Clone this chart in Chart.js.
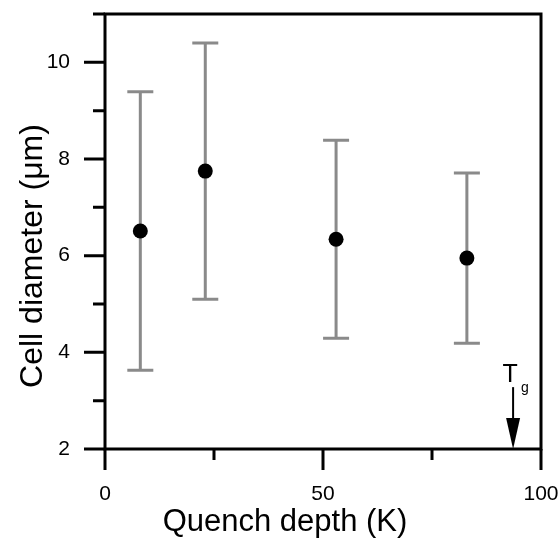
<!DOCTYPE html>
<html>
<head>
<meta charset="utf-8">
<script src="https://cdn.jsdelivr.net/npm/chart.js@4.4.1/dist/chart.umd.min.js"></script>
<style>
  html, body { margin: 0; padding: 0; background: #fff; }
  #wrap { width: 559px; height: 539px; }
</style>
</head>
<body>
<div id="wrap"><canvas id="c" width="559" height="539"></canvas></div>
<script>
// Mean cell diameter against quench depth, with symmetric error bars
const quenchDepth   = [8.1, 23.0, 53.0, 83.0];     // K
const cellDiameter  = [6.51, 7.75, 6.34, 5.95];    // µm
const diameterError = [2.88, 2.65, 2.05, 1.76];    // µm, ±

const xTickLabels = ['0', '50', '100'];
const yTickLabels = ['2', '4', '6', '8', '10'];

const xTitle = 'Quench depth (K)';
const yTitle = 'Cell diameter (\u03BCm)';

// Glass transition marker: arrow down to the axis at Tg
const tgDepth = 93.6;
const tgArrowTop = 3.28;
const tgArrowTip = 2;

const FONT = '"Liberation Sans", Arial, Helvetica, sans-serif';
const AXIS_W = 3;

const errorBars = {
  id: 'errorBars',
  beforeDatasetsDraw(chart) {
    const { ctx, scales: { x, y } } = chart;
    ctx.save();
    ctx.strokeStyle = '#8a8a8a';
    ctx.lineWidth = 3;
    quenchDepth.forEach((d, i) => {
      const px = x.getPixelForValue(d);
      const top = y.getPixelForValue(cellDiameter[i] + diameterError[i]);
      const bot = y.getPixelForValue(cellDiameter[i] - diameterError[i]);
      ctx.beginPath();
      ctx.moveTo(px, top); ctx.lineTo(px, bot);
      ctx.moveTo(px - 13, top); ctx.lineTo(px + 13, top);
      ctx.moveTo(px - 13, bot); ctx.lineTo(px + 13, bot);
      ctx.stroke();
    });
    ctx.restore();
  }
};

const frameAndTicks = {
  id: 'frameAndTicks',
  afterDraw(chart) {
    const { ctx, chartArea: a, scales: { x, y } } = chart;
    ctx.save();
    ctx.strokeStyle = '#000';
    ctx.lineWidth = AXIS_W;
    ctx.lineCap = 'square';
    ctx.beginPath();
    ctx.moveTo(a.left, a.top); ctx.lineTo(a.right, a.top);
    ctx.lineTo(a.right, a.bottom); ctx.lineTo(a.left, a.bottom);
    ctx.closePath();
    ctx.stroke();
    ctx.lineCap = 'butt';
    ctx.beginPath();
    x.ticks.forEach(t => {
      const px = x.getPixelForValue(t.value);
      const len = xTickLabels.includes(String(t.value)) ? 21 : 11;
      ctx.moveTo(px, a.bottom); ctx.lineTo(px, a.bottom + len);
    });
    y.ticks.forEach(t => {
      const py = y.getPixelForValue(t.value);
      const len = yTickLabels.includes(String(t.value)) ? 21 : 12;
      ctx.moveTo(a.left, py); ctx.lineTo(a.left - len, py);
    });
    ctx.stroke();
    ctx.restore();
  }
};

const tgMarker = {
  id: 'tgMarker',
  afterDraw(chart) {
    const { ctx, scales: { x, y } } = chart;
    const px = x.getPixelForValue(tgDepth);
    const yTop = y.getPixelForValue(tgArrowTop);
    const yTip = y.getPixelForValue(tgArrowTip);
    const headLen = 31;
    ctx.save();
    ctx.strokeStyle = '#000';
    ctx.fillStyle = '#000';
    ctx.lineWidth = 2;
    ctx.beginPath();
    ctx.moveTo(px, yTop); ctx.lineTo(px, yTip - headLen + 2);
    ctx.stroke();
    ctx.beginPath();
    ctx.moveTo(px - 7, yTip - headLen);
    ctx.lineTo(px + 7, yTip - headLen);
    ctx.lineTo(px, yTip);
    ctx.closePath();
    ctx.fill();
    ctx.textBaseline = 'alphabetic';
    ctx.textAlign = 'center';
    ctx.font = '25px ' + FONT;
    ctx.fillText('T', px - 3, yTop - 5);
    ctx.font = '14px ' + FONT;
    ctx.textAlign = 'left';
    ctx.fillText('g', px + 8, yTop + 5);
    ctx.restore();
  }
};

const axisTitles = {
  id: 'axisTitles',
  afterDraw(chart) {
    const { ctx } = chart;
    ctx.save();
    ctx.fillStyle = '#000';
    ctx.font = '31px ' + FONT;
    ctx.textAlign = 'center';
    ctx.textBaseline = 'alphabetic';
    ctx.fillText(xTitle, 285, 531);
    ctx.font = '32px ' + FONT;
    ctx.translate(42, 256);
    ctx.rotate(-Math.PI / 2);
    ctx.fillText(yTitle, 0, 0);
    ctx.restore();
  }
};

// Fixed scale sizes so the plot frame sits where the layout padding puts it
function fixScale(size, prop) {
  return s => {
    s[prop] = size;
    s.paddingLeft = 0; s.paddingRight = 0;
    s.paddingTop = 0; s.paddingBottom = 0;
  };
}

new Chart(document.getElementById('c'), {
  type: 'scatter',
  data: {
    datasets: [{
      data: quenchDepth.map((d, i) => ({ x: d, y: cellDiameter[i] })),
      pointRadius: 7.5,
      pointHoverRadius: 7.5,
      pointBackgroundColor: '#000',
      pointBorderWidth: 0
    }]
  },
  options: {
    responsive: false,
    animation: false,
    events: [],
    layout: { padding: { top: 14, right: 18, left: 0, bottom: 0 } },
    plugins: { legend: { display: false }, tooltip: { enabled: false } },
    scales: {
      x: {
        type: 'linear', min: 0, max: 100,
        grid: { display: false, drawTicks: false },
        border: { display: false },
        ticks: {
          stepSize: 25, autoSkip: false, maxRotation: 0, padding: 33,
          color: '#000', font: { family: FONT, size: 21 },
          callback: v => xTickLabels.includes(String(v)) ? String(v) : ''
        },
        afterFit: fixScale(90, 'height')
      },
      y: {
        type: 'linear', min: 2, max: 11,
        grid: { display: false, drawTicks: false },
        border: { display: false },
        ticks: {
          stepSize: 1, autoSkip: false, padding: 35,
          color: '#000', font: { family: FONT, size: 21 },
          callback: v => yTickLabels.includes(String(v)) ? String(v) : ''
        },
        afterFit: fixScale(105, 'width')
      }
    }
  },
  plugins: [errorBars, frameAndTicks, tgMarker, axisTitles]
});
</script>
</body>
</html>
